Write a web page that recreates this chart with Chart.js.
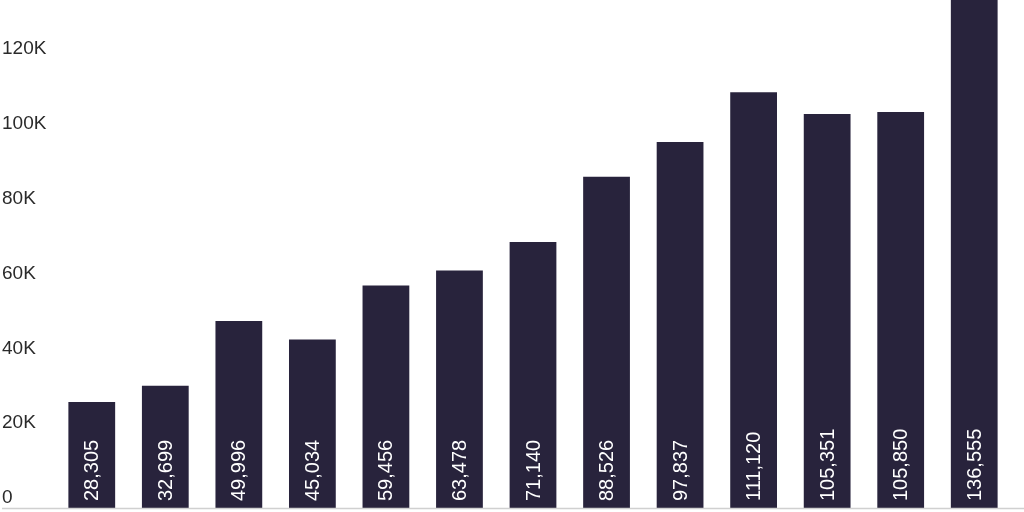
<!DOCTYPE html>
<html>
<head>
<meta charset="utf-8">
<script src="https://cdn.jsdelivr.net/npm/chart.js@4"></script>
<style>
  html, body { margin: 0; padding: 0; background: #fff; }
  #wrap { width: 1024px; height: 512px; }
</style>
</head>
<body>
<div id="wrap"><canvas id="barChart"></canvas></div>
<script>
// дані графіка
const categories = ['1', '2', '3', '4', '5', '6', '7', '8', '9', '10', '11', '12', '13'];
const values = [28305, 32699, 49996, 45034, 59456, 63478, 71140, 88526, 97837, 111120, 105351, 105850, 136555];
const tickValues = [0, 20000, 40000, 60000, 80000, 100000, 120000];
const tickLabels = ['0', '20K', '40K', '60K', '80K', '100K', '120K'];

const barColor = '#28233c';
const fontFamily = '"Liberation Sans", Arial, sans-serif';

// підписи значень всередині стовпців
const valueLabels = {
  id: 'valueLabels',
  afterDatasetsDraw(chart) {
    const { ctx } = chart;
    const meta = chart.getDatasetMeta(0);
    const base = chart.scales.y.getPixelForValue(0);
    ctx.save();
    ctx.fillStyle = '#ffffff';
    ctx.font = '20px ' + fontFamily;
    ctx.textAlign = 'left';
    ctx.textBaseline = 'middle';
    meta.data.forEach((bar, i) => {
      ctx.save();
      ctx.translate(bar.x, base - 7);
      ctx.rotate(-Math.PI / 2);
      ctx.fillText(values[i].toLocaleString('en-US'), 0, 1);
      ctx.restore();
    });
    ctx.restore();
  }
};

// базова лінія через всю ширину
const baseLine = {
  id: 'baseLine',
  afterDraw(chart) {
    const { ctx } = chart;
    const y = Math.round(chart.scales.y.getPixelForValue(0)) + 0.5;
    ctx.save();
    ctx.strokeStyle = '#d0d0d0';
    ctx.lineWidth = 1.5;
    ctx.beginPath();
    ctx.moveTo(2, y);
    ctx.lineTo(chart.width, y);
    ctx.stroke();
    ctx.restore();
  }
};

const ctx = document.getElementById('barChart').getContext('2d');

let barChart = new Chart(ctx, {
  type: 'bar',
  data: {
    labels: categories,
    datasets: [{
      data: values,
      backgroundColor: barColor,
      borderWidth: 0,
      barPercentage: 0.8,
      categoryPercentage: 0.795
    }]
  },
  options: {
    responsive: true,
    maintainAspectRatio: false,
    animation: false,
    layout: { padding: { top: 0, right: 13, bottom: 4, left: 2 } },
    plugins: {
      legend: { display: false },
      tooltip: { enabled: false }
    },
    scales: {
      x: {
        display: false
      },
      y: {
        min: 0,
        max: 135800,
        afterFit(scale) {
          scale.width = 53;
          scale.paddingTop = 0;
          scale.paddingBottom = 0;
        },
        afterBuildTicks(scale) {
          scale.ticks = tickValues.map(v => ({ value: v }));
        },
        grid: { display: false },
        border: { display: false },
        ticks: {
          crossAlign: 'far',
          padding: 0,
          labelOffset: -10,
          color: '#2a2a2a',
          font: { family: fontFamily, size: 19 },
          callback: (v) => tickLabels[tickValues.indexOf(v)]
        }
      }
    }
  },
  plugins: [valueLabels, baseLine]
});
</script>
</body>
</html>
